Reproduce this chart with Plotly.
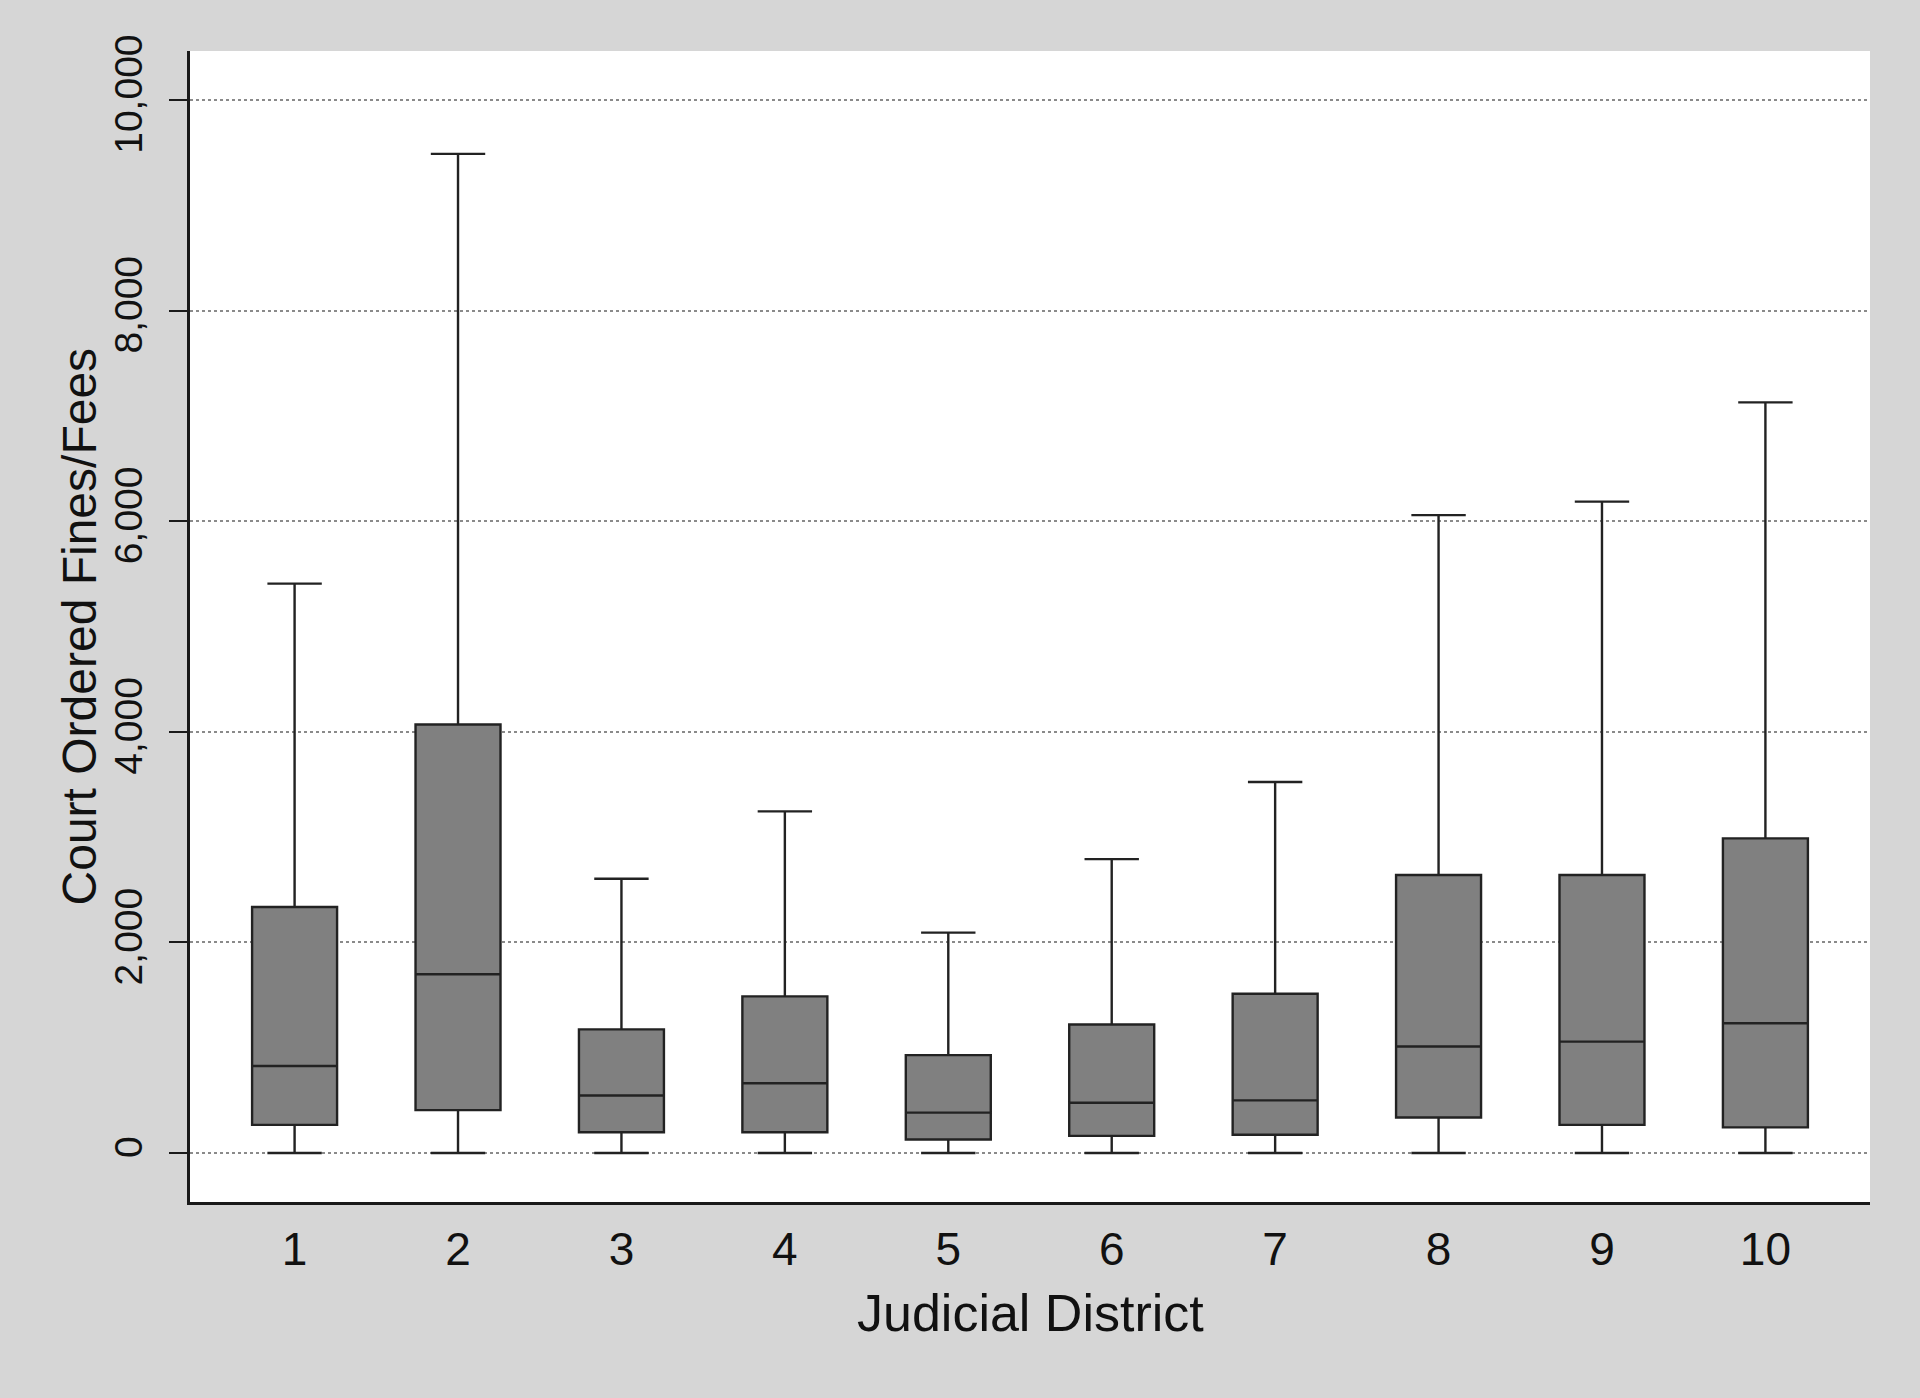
import plotly.graph_objects as go

districts = [1, 2, 3, 4, 5, 6, 7, 8, 9, 10]
lower_whisker = [0, 0, 0, 0, 0, 0, 0, 0, 0, 0]
q1 = [267, 407, 198, 198, 128, 163, 174, 337, 267, 244]
median = [826, 1698, 547, 663, 384, 477, 500, 1012, 1058, 1233]
q3 = [2337, 4070, 1174, 1488, 930, 1221, 1512, 2640, 2640, 2988]
upper_whisker = [5407, 9488, 2605, 3244, 2093, 2791, 3523, 6058, 6186, 7128]
y_ticks = [0, 2000, 4000, 6000, 8000, 10000]

fig = go.Figure()
fig.add_trace(go.Box(
    x=districts, q1=q1, median=median, q3=q3,
    lowerfence=lower_whisker, upperfence=upper_whisker,
    boxpoints=False, width=0.52, whiskerwidth=0.64,
    fillcolor="#808080", line=dict(color="#222222", width=2.4),
    showlegend=False, hoverinfo="y",
))

fig.update_layout(
    width=1920, height=1398,
    paper_bgcolor="#d6d6d6", plot_bgcolor="#ffffff",
    margin=dict(l=190, r=50, t=51, b=196),
    font=dict(family="Liberation Sans, Arial, sans-serif", color="#111111"),
    xaxis=dict(
        range=[0.36, 10.64], tickmode="array", tickvals=districts,
        ticktext=[str(d) for d in districts],
        showgrid=False, zeroline=False, showline=True, linecolor="#1a1a1a", linewidth=2.5,
        ticks="", tickfont=dict(size=46), ticklabelstandoff=5,
    ),
    yaxis=dict(
        range=[-465, 10465], tickmode="array", tickvals=y_ticks,
        tickformat=",", tickangle=-90,
        showgrid=True, gridcolor="#8a8a8a", gridwidth=1.5, griddash="dot",
        zeroline=False, showline=True, linecolor="#1a1a1a", linewidth=2.5,
        ticks="outside", ticklen=18, tickwidth=2, tickcolor="#1a1a1a",
        tickfont=dict(size=39), ticklabelstandoff=12,
    ),
    annotations=[
        dict(text="Judicial District", xref="paper", yref="paper", x=0.5, y=-0.0964,
             xanchor="center", yanchor="middle", showarrow=False, font=dict(size=52)),
        dict(text="Court Ordered Fines/Fees", xref="paper", yref="paper", x=-0.0655, y=0.5,
             xanchor="center", yanchor="middle", textangle=-90, showarrow=False, font=dict(size=48)),
    ],
)

fig.write_html(
    "out.html",
    config={"displayModeBar": False},
    post_script="document.body.style.margin='0';document.body.style.overflow='hidden';",
)
